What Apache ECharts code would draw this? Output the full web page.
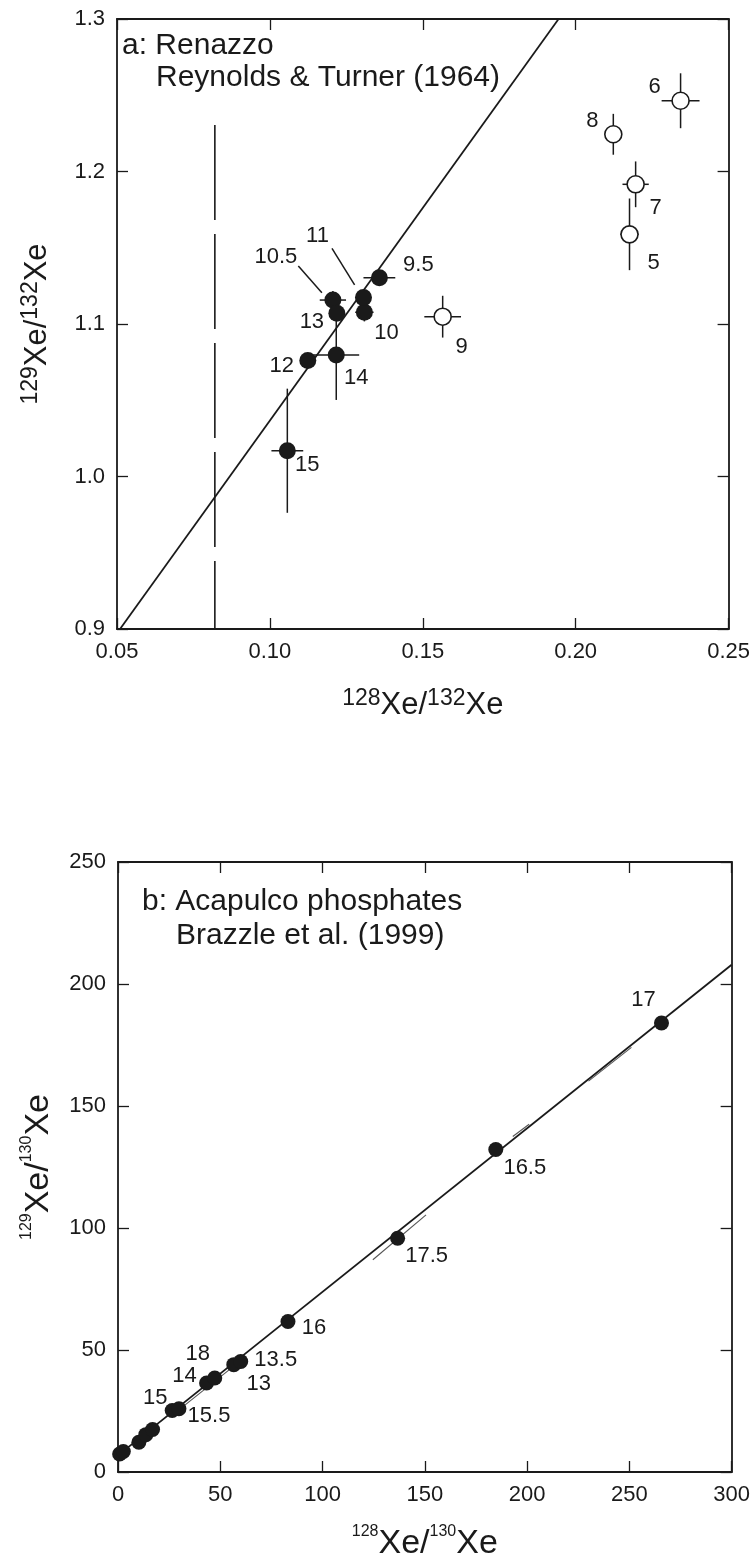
<!DOCTYPE html>
<html>
<head>
<meta charset="utf-8">
<script src="https://cdn.jsdelivr.net/npm/echarts@6/dist/echarts.min.js"></script>
<style>
  html, body { margin: 0; padding: 0; background: #fff; }
  #chart { width: 753px; height: 1562px; }
</style>
</head>
<body>
<div id="chart"></div>
<script>
// ---- panel a: Renazzo, Reynolds & Turner (1964) ----
var aNames = ['5', '6', '7', '8', '9', '9.5', '10', '10.5', '11', '12', '13', '14', '15'];
var aX     = [0.2176, 0.2343, 0.2196, 0.2123, 0.1565, 0.1358, 0.1309, 0.1206, 0.1306, 0.1124, 0.1219, 0.1217, 0.1057];
var aY     = [1.1588, 1.2464, 1.1916, 1.2244, 1.1048, 1.1304, 1.1077, 1.1157, 1.1173, 1.0760, 1.1070, 1.0797, 1.0169];
var aXErr  = [0.0030, 0.0062, 0.0043, 0, 0.0060, 0.0052, 0.0030, 0.0043, 0, 0, 0, 0.0075, 0.0052];
var aYErr  = [0.0235, 0.0180, 0.0150, 0.0134, 0.0137, 0, 0.0060, 0.0060, 0.0040, 0, 0, 0.0295, 0.0407];
var aOpen  = [true, true, true, true, true, false, false, false, false, false, false, false, false];
var aFitLine = [[0.051, 0.9], [0.1944, 1.3]];
var aDashLine = [[0.082, 1.2305], [0.082, 0.9]];
var aLeaders = [
  [[0.1203, 1.1496], [0.1277, 1.1256]],   // 11
  [[0.1093, 1.1380], [0.1170, 1.1205]]    // 10.5
];
var aXTicks = [0.05, 0.25, 0.05];   // min, max, step
var aYTicks = [0.9, 1.3, 0.1];

// ---- panel b: Acapulco phosphates, Brazzle et al. (1999) ----
var bNames = ['', '', '', '', '', '15', '15.5', '14', '18', '13', '13.5', '16', '17.5', '16.5', '17'];
var bX     = [0.8, 2.6, 10.2, 13.6, 16.9, 26.5, 29.8, 43.3, 47.3, 56.6, 60.0, 83.1, 136.7, 184.7, 265.7];
var bY     = [7.4, 8.4, 12.2, 15.3, 17.4, 25.2, 25.9, 36.5, 38.5, 44.0, 45.3, 61.7, 95.8, 132.2, 184.0];
var bFitLine = [[0, 6.8], [300, 207.9]];
var bShortSegs = [
  [[31, 26.3], [62, 47.0]],
  [[124.6, 87.0], [150.6, 105.4]],
  [[193, 137.5], [201, 142.5]],
  [[230, 160.2], [251, 174.0]]
];
var bXTicks = [0, 300, 50];
var bYTicks = [0, 250, 50];

// label placement (pixels from the point centre)
var labelOffsetA = {
  '5': [24, 29], '6': [-26, -14], '7': [20, 24], '8': [-21, -13], '9': [19, 30],
  '9.5': [39, -13], '10': [22, 21], '10.5': [-57, -43], '11': [-46, -62],
  '12': [-26, 5], '13': [-25, 9], '14': [20, 23], '15': [20, 14]
};
var labelOffsetB = {
  '15': [-17, -13], '15.5': [30, 7], '14': [-22, -7], '18': [-17, -24], '13': [25, 19],
  '13.5': [35, -2], '16': [26, 6], '17.5': [29, 18], '16.5': [29, 19], '17': [-18, -23]
};

var FONT = "'Liberation Sans', Arial, sans-serif";
var INK = '#1a1a1a';

var chart = echarts.init(document.getElementById('chart'));

function axis(pos, ticks, gridIndex, showLabel, digits, extra) {
  var o = {
    type: 'value',
    gridIndex: gridIndex,
    position: pos,
    min: ticks[0],
    max: ticks[1],
    interval: ticks[2],
    axisLine: { show: true, onZero: false, lineStyle: { color: INK, width: 1.8 } },
    axisTick: { show: true, inside: true, length: 11, lineStyle: { color: INK, width: 1.3 } },
    splitLine: { show: false },
    axisLabel: {
      show: showLabel, fontSize: 22, color: INK, fontFamily: FONT, margin: 12,
      formatter: function (v) { return v.toFixed(digits); }
    }
  };
  return Object.assign(o, extra || {});
}

function richName(n1, n2, small, big) {
  return {
    name: '{s|' + n1 + '}{b|Xe/}{s|' + n2 + '}{b|Xe}',
    nameLocation: 'middle',
    nameTextStyle: {
      fontFamily: FONT, color: INK,
      rich: {
        s: { fontSize: small, lineHeight: small + 1, verticalAlign: 'top', fontFamily: FONT, color: INK },
        b: { fontSize: big, lineHeight: big + 3, verticalAlign: 'bottom', fontFamily: FONT, color: INK }
      }
    }
  };
}

function errorBars(params, api) {
  var x = api.value(0), y = api.value(1), ex = api.value(2), ey = api.value(3);
  var kids = [];
  var st = { stroke: INK, lineWidth: 1.5 };
  if (ex > 0) {
    var l = api.coord([x - ex, y]), r = api.coord([x + ex, y]);
    kids.push({ type: 'line', shape: { x1: l[0], y1: l[1], x2: r[0], y2: r[1] }, style: st });
  }
  if (ey > 0) {
    var t = api.coord([x, y + ey]), b = api.coord([x, y - ey]);
    kids.push({ type: 'line', shape: { x1: t[0], y1: t[1], x2: b[0], y2: b[1] }, style: st });
  }
  return { type: 'group', children: kids };
}

function pointItems(names, xs, ys, offsets, keep) {
  var out = [];
  names.forEach(function (n, i) {
    if (keep && !keep(i)) return;
    var off = offsets[n];
    out.push({
      name: n,
      value: [xs[i], ys[i]],
      label: off ? { show: true, offset: off } : { show: false }
    });
  });
  return out;
}

var ptLabel = {
  show: true, position: 'inside', formatter: '{b}',
  fontSize: 22, color: INK, fontFamily: FONT
};

function segSeries(seg, xi, yi, width, color, dash) {
  return {
    type: 'line', xAxisIndex: xi, yAxisIndex: yi, data: seg,
    symbol: 'none', silent: true, animation: false, z: 2,
    lineStyle: { color: color, width: width, type: dash || 'solid' }
  };
}

var series = [];
series.push(segSeries(aFitLine, 0, 0, 1.8, INK));
series.push(segSeries(aDashLine, 0, 0, 1.6, INK, [95, 14]));
aLeaders.forEach(function (s) { series.push(segSeries(s, 0, 0, 1.5, INK)); });
series.push({
  type: 'custom', xAxisIndex: 0, yAxisIndex: 0, renderItem: errorBars, z: 3, animation: false,
  data: aX.map(function (x, i) { return [x, aY[i], aXErr[i], aYErr[i]]; })
});
series.push({
  type: 'scatter', xAxisIndex: 0, yAxisIndex: 0, symbol: 'circle', symbolSize: 17, z: 5, animation: false,
  itemStyle: { color: '#fff', borderColor: INK, borderWidth: 1.6, opacity: 1 },
  label: ptLabel,
  data: pointItems(aNames, aX, aY, labelOffsetA, function (i) { return aOpen[i]; })
});
series.push({
  type: 'scatter', xAxisIndex: 0, yAxisIndex: 0, symbol: 'circle', symbolSize: 17, z: 5, animation: false,
  itemStyle: { color: INK, opacity: 1 },
  label: ptLabel,
  data: pointItems(aNames, aX, aY, labelOffsetA, function (i) { return !aOpen[i]; })
});

series.push(segSeries(bFitLine, 2, 2, 1.8, INK));
bShortSegs.forEach(function (s) { series.push(segSeries(s, 2, 2, 1.1, '#555')); });
series.push({
  type: 'scatter', xAxisIndex: 2, yAxisIndex: 2, symbol: 'circle', symbolSize: 15, z: 5, animation: false,
  itemStyle: { color: INK, opacity: 1 },
  label: ptLabel,
  data: pointItems(bNames, bX, bY, labelOffsetB)
});

var titleStyle = { font: '30px ' + FONT, fill: INK };

chart.setOption({
  animation: false,
  backgroundColor: '#fff',
  textStyle: { fontFamily: FONT },
  grid: [
    { left: 117, top: 19, width: 612, height: 610 },
    { left: 118, top: 862, width: 615, height: 611 }
  ],
  xAxis: [
    axis('bottom', aXTicks, 0, true, 2, Object.assign(richName('128', '132', 23, 31), { nameGap: 58 })),
    axis('top', aXTicks, 0, false, 2),
    axis('bottom', bXTicks, 1, true, 0, Object.assign(richName('128', '130', 16, 34), { nameGap: 52 })),
    axis('top', bXTicks, 1, false, 0)
  ],
  yAxis: [
    axis('left', aYTicks, 0, true, 1, Object.assign(richName('129', '132', 23, 31), { nameGap: 64, nameRotate: 90 })),
    axis('right', aYTicks, 0, false, 1),
    axis('left', bYTicks, 1, true, 0, Object.assign(richName('129', '130', 16, 34), { nameGap: 62, nameRotate: 90 })),
    axis('right', bYTicks, 1, false, 0)
  ],
  graphic: [
    { type: 'text', left: 122, top: 31, style: Object.assign({ text: 'a: Renazzo' }, titleStyle) },
    { type: 'text', left: 156, top: 63, style: Object.assign({ text: 'Reynolds & Turner (1964)' }, titleStyle) },
    { type: 'text', left: 142, top: 887, style: Object.assign({ text: 'b: Acapulco phosphates' }, titleStyle) },
    { type: 'text', left: 176, top: 921, style: Object.assign({ text: 'Brazzle et al. (1999)' }, titleStyle) }
  ],
  series: series
});
</script>
</body>
</html>
